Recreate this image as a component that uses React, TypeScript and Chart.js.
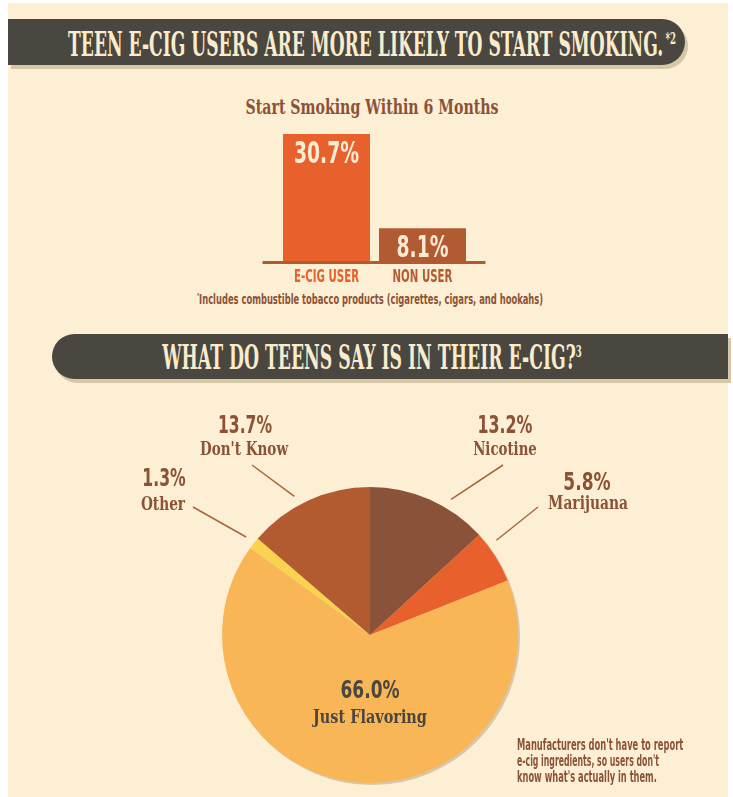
import React, { useEffect, useLayoutEffect, useRef } from "react";
import { Chart, registerables } from "chart.js";

Chart.register(...registerables);

// ---------- data ----------
const barCategories = ["E-CIG USER", "NON USER"];
const barValues = [30.7, 8.1];
const barValueLabels = ["30.7%", "8.1%"];

const pieCategories = ["Nicotine", "Marijuana", "Just Flavoring", "Other", "Don't Know"];
const pieValues = [13.2, 5.8, 66.0, 1.3, 13.7];
const pieValueLabels = ["13.2%", "5.8%", "66.0%", "1.3%", "13.7%"];

// ---------- style ----------
const COND = "'Liberation Sans Narrow', 'DejaVu Sans Condensed', 'Roboto Condensed', Roboto, sans-serif";
const SLAB = "'DejaVu Serif Condensed', 'DejaVu Serif', 'Liberation Serif', serif";
const C = {
  page: "#FFFFFF",
  bg: "#FCEFD4",
  banner: "#4A4640",
  bannerShadow: "#D6C7A7",
  bannerText: "#F8ECCC",
  brown: "#8C5236",
  orange: "#E8602C",
  rust: "#B25A31",
  barText: "#FBEBD2",
  dark: "#4A4640",
  leader: "#A5653F",
};
const barColors = [C.orange, C.rust];
const pieColors = ["#8A5238", "#E8602C", "#F8B656", "#F9D34E", "#B25B30"];

// leader line layout (fraction along slice arc, outer end in page coords)
const leaderLayout: ({ frac: number; end: [number, number] } | null)[] = [
  { frac: 0.65, end: [503, 465] },
  { frac: 0.27, end: [538, 507] },
  null,
  { frac: 0.5, end: [193, 507] },
  { frac: 0.42, end: [252, 465] },
];

type FTProps = {
  cx: number;
  cy: number;
  size: number;
  w: number;
  color: string;
  align?: "center" | "left";
  weight?: number;
  family?: string;
  children: React.ReactNode;
};

function FitText({ cx, cy, size, w, color, align = "center", weight = 700, family = COND, children }: FTProps) {
  const ref = useRef<HTMLSpanElement>(null);
  useLayoutEffect(() => {
    const el = ref.current;
    if (!el) return;
    const natural = el.offsetWidth;
    const s = natural > 0 ? w / natural : 1;
    el.style.transform = align === "center" ? `translateX(-50%) scaleX(${s})` : `scaleX(${s})`;
  }, [w, align]);
  return (
    <div
      style={{
        position: "absolute",
        left: cx,
        top: cy - size / 2,
        height: size,
        lineHeight: `${size}px`,
        whiteSpace: "nowrap",
        fontFamily: family,
        fontWeight: weight,
        fontSize: size,
        color,
      }}
    >
      <span
        ref={ref}
        style={{
          display: "inline-block",
          transformOrigin: align === "center" ? "center" : "left",
        }}
      >
        {children}
      </span>
    </div>
  );
}

const Sup = ({ children, ml = 0 }: { children: React.ReactNode; ml?: number }) => (
  <span style={{ fontSize: "0.5em", position: "relative", top: "-0.72em", marginLeft: ml }}>{children}</span>
);

function BarChart() {
  const ref = useRef<HTMLCanvasElement>(null);
  useEffect(() => {
    if (!ref.current) return;
    const deco = {
      id: "barDeco",
      afterDatasetsDraw(chart: any) {
        const { ctx, chartArea, scales } = chart;
        const y0 = scales.y.getPixelForValue(0);
        ctx.save();
        ctx.fillStyle = C.rust;
        ctx.fillRect(chartArea.left - 16, y0 - 1, chartArea.right - chartArea.left + 31, 3);
        const meta = chart.getDatasetMeta(0);
        // value labels
        ctx.font = `700 31px ${COND}`;
        const vf = 65 / ctx.measureText(barValueLabels[0]).width;
        ctx.textAlign = "center";
        ctx.textBaseline = "alphabetic";
        meta.data.forEach((bar: any, i: number) => {
          ctx.save();
          ctx.fillStyle = C.barText;
          ctx.translate(bar.x, bar.y + 29);
          ctx.scale(vf, 1);
          ctx.fillText(barValueLabels[i], 0, 0);
          ctx.restore();
        });
        // category labels
        ctx.font = `700 17px ${COND}`;
        const cf = 65 / ctx.measureText(barCategories[0]).width;
        chart.data.labels.forEach((lab: string, i: number) => {
          const x = scales.x.getPixelForValue(i);
          ctx.save();
          ctx.fillStyle = barColors[i];
          ctx.translate(x, y0 + 20);
          ctx.scale(cf, 1);
          ctx.fillText(lab, 0, 0);
          ctx.restore();
        });
        ctx.restore();
      },
    };
    const chart = new Chart(ref.current, {
      type: "bar",
      data: {
        labels: barCategories,
        datasets: [
          {
            data: barValues,
            backgroundColor: barColors,
            borderWidth: 0,
            barPercentage: 87 / 96,
            categoryPercentage: 1,
          },
        ],
      },
      options: {
        responsive: false,
        animation: false,
        devicePixelRatio: 1,
        layout: { padding: { left: 48.5, right: 59.5, top: 12.75, bottom: 28 } },
        scales: {
          x: { display: false },
          y: { display: false, min: 0, max: 31 },
        },
        plugins: { legend: { display: false }, tooltip: { enabled: false } },
      },
      plugins: [deco],
    });
    return () => chart.destroy();
  }, []);
  return (
    <canvas
      ref={ref}
      width={300}
      height={170}
      style={{ position: "absolute", left: 230, top: 120, width: 300, height: 170 }}
    />
  );
}

function PieChart() {
  const ref = useRef<HTMLCanvasElement>(null);
  const TOP = 385;
  useEffect(() => {
    if (!ref.current) return;
    const deco = {
      id: "pieDeco",
      beforeDatasetsDraw(chart: any) {
        const arc = chart.getDatasetMeta(0).data[0];
        if (!arc) return;
        const { ctx } = chart;
        ctx.save();
        ctx.fillStyle = "rgba(120,95,70,0.28)";
        ctx.beginPath();
        ctx.arc(arc.x + 2, arc.y + 2, arc.outerRadius, 0, Math.PI * 2);
        ctx.fill();
        ctx.restore();
      },
      afterDatasetsDraw(chart: any) {
        const { ctx } = chart;
        const meta = chart.getDatasetMeta(0);
        ctx.save();
        ctx.strokeStyle = C.leader;
        ctx.lineWidth = 1.5;
        meta.data.forEach((arc: any, i: number) => {
          const l = leaderLayout[i];
          if (!l) return;
          const a = arc.startAngle + l.frac * (arc.endAngle - arc.startAngle);
          const r = arc.outerRadius + 10;
          ctx.beginPath();
          ctx.moveTo(arc.x + Math.cos(a) * r, arc.y + Math.sin(a) * r);
          ctx.lineTo(l.end[0], l.end[1] - TOP);
          ctx.stroke();
        });
        ctx.restore();
      },
    };
    const chart = new Chart(ref.current, {
      type: "pie",
      data: {
        labels: pieCategories,
        datasets: [{ data: pieValues, backgroundColor: pieColors, borderWidth: 0 }],
      },
      options: {
        responsive: false,
        animation: false,
        devicePixelRatio: 1,
        layout: { padding: { left: 222, right: 215, top: 102, bottom: 14 } },
        plugins: { legend: { display: false }, tooltip: { enabled: false } },
      },
      plugins: [deco],
    });
    return () => chart.destroy();
  }, []);
  return (
    <canvas
      ref={ref}
      width={733}
      height={412}
      style={{ position: "absolute", left: 0, top: TOP, width: 733, height: 412 }}
    />
  );
}

export default function App() {
  return (
    <div style={{ position: "relative", width: 733, height: 797, overflow: "hidden", background: C.page }}>
      <style>{"html,body{margin:0;padding:0;}"}</style>
      <div style={{ position: "absolute", left: 8, top: 3, width: 720, height: 794, background: C.bg }} />

      {/* banner 1 */}
      <div
        style={{
          position: "absolute",
          left: 8,
          top: 19,
          width: 677,
          height: 46,
          background: C.banner,
          borderRadius: "0 23px 23px 0",
          boxShadow: `3px 4px 0 ${C.bannerShadow}`,
        }}
      />
      <FitText cx={372} cy={44} size={33} w={608} color={C.bannerText} family={SLAB}>
        TEEN E-CIG USERS ARE MORE LIKELY TO START SMOKING.<Sup ml={4}>*2</Sup>
      </FitText>

      <FitText cx={371.5} cy={106.5} size={20} w={253} color={C.brown} family={SLAB}>
        Start Smoking Within 6 Months
      </FitText>

      <BarChart />

      <FitText cx={370} cy={298.5} size={14} w={346} color={C.brown}>
        <Sup>*</Sup>Includes combustible tobacco products (cigarettes, cigars, and hookahs)
      </FitText>

      {/* banner 2 */}
      <div
        style={{
          position: "absolute",
          left: 52,
          top: 334,
          width: 676,
          height: 45,
          background: C.banner,
          borderRadius: "22.5px 0 0 22.5px",
          boxShadow: `3px 4px 0 ${C.bannerShadow}`,
        }}
      />
      <FitText cx={372} cy={357} size={33} w={420} color={C.bannerText} family={SLAB}>
        WHAT DO TEENS SAY IS IN THEIR E-CIG?<Sup>3</Sup>
      </FitText>

      <PieChart />

      {/* pie labels */}
      <FitText cx={245} cy={424} size={25} w={54} color={C.brown}>{pieValueLabels[4]}</FitText>
      <FitText cx={244} cy={448.5} size={19} w={88} color={C.brown} family={SLAB}>{pieCategories[4]}</FitText>

      <FitText cx={504.5} cy={424} size={25} w={55} color={C.brown}>{pieValueLabels[0]}</FitText>
      <FitText cx={505} cy={448.5} size={19} w={64} color={C.brown} family={SLAB}>{pieCategories[0]}</FitText>

      <FitText cx={163.5} cy={477.5} size={25} w={43} color={C.brown}>{pieValueLabels[3]}</FitText>
      <FitText cx={163} cy={503.5} size={19} w={44} color={C.brown} family={SLAB}>{pieCategories[3]}</FitText>

      <FitText cx={586.5} cy={481} size={25} w={47} color={C.brown}>{pieValueLabels[1]}</FitText>
      <FitText cx={588} cy={502.5} size={19} w={80} color={C.brown} family={SLAB}>{pieCategories[1]}</FitText>

      <FitText cx={369.5} cy={689.5} size={25} w={59} color={C.dark}>{pieValueLabels[2]}</FitText>
      <FitText cx={370} cy={716.5} size={19} w={114} color={C.dark} family={SLAB}>{pieCategories[2]}</FitText>

      {/* note */}
      <FitText cx={517} cy={745} size={15} w={166} color={C.brown} align="left" weight={700}>
        Manufacturers don't have to report
      </FitText>
      <FitText cx={517} cy={761} size={15} w={142} color={C.brown} align="left" weight={700}>
        e-cig ingredients, so users don't
      </FitText>
      <FitText cx={517} cy={777} size={15} w={140} color={C.brown} align="left" weight={700}>
        know what's actually in them.
      </FitText>
    </div>
  );
}
